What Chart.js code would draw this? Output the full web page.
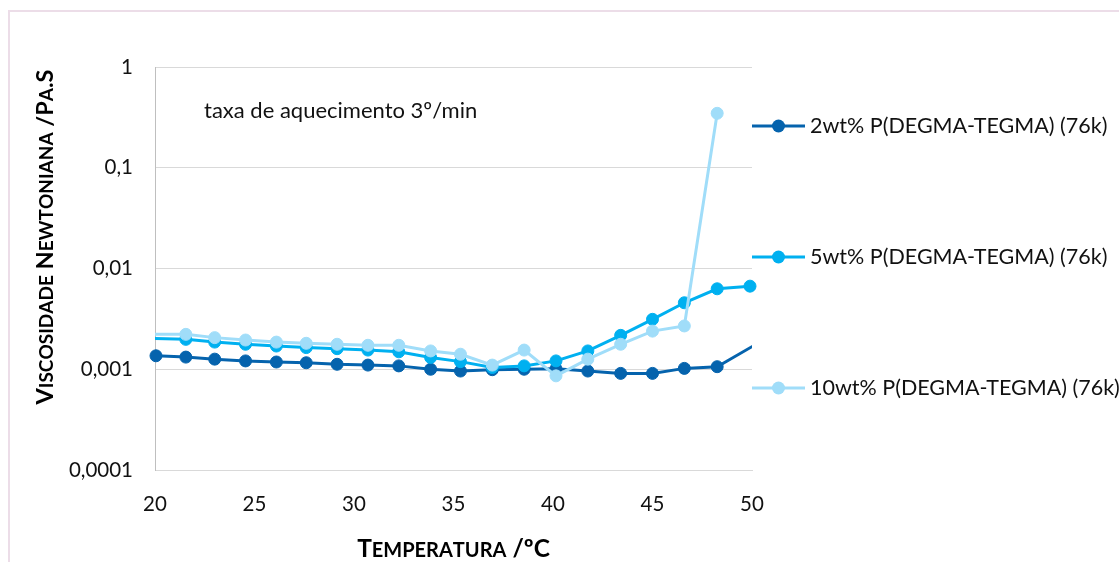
<!DOCTYPE html>
<html lang="pt">
<head>
<meta charset="utf-8">
<title>Viscosidade newtoniana vs temperatura</title>
<script src="https://cdn.jsdelivr.net/npm/chart.js@4.4.1/dist/chart.umd.min.js"></script>
<style>
  html, body { margin: 0; padding: 0; background: #fff; }
  #wrap { position: relative; width: 1119px; height: 562px; overflow: hidden; }
  #frame { position: absolute; left: 8px; top: 10px; right: -4px; bottom: -4px;
           border-top: 2px solid #ecdde8; border-left: 2px solid #ecdde8; }
  #chart { position: absolute; left: 0; top: 0; }
</style>
</head>
<body>
<div id="wrap">
  <div id="frame"></div>
  <canvas id="chart" width="1119" height="562"></canvas>
</div>
<script>
// Temperatures (ºC) per series
const temp2wt = [20.05, 21.55, 23.0, 24.55, 26.1, 27.6, 29.15, 30.7, 32.25, 33.85,
                 35.35, 36.95, 38.55, 40.15, 41.75, 43.4, 45.0, 46.6, 48.25, 51.6];
const temp5wt = [18.45, 21.55, 23.0, 24.55, 26.1, 27.6, 29.15, 30.7, 32.25, 33.85,
                 35.35, 36.95, 38.55, 40.15, 41.75, 43.4, 45.0, 46.6, 48.25, 49.9];
const temp10wt = [18.45, 21.55, 23.0, 24.55, 26.1, 27.6, 29.15, 30.7, 32.25, 33.85,
                  35.35, 36.95, 38.55, 40.15, 41.75, 43.4, 45.0, 46.6, 48.25];

// Newtonian viscosity (Pa.s)
const visc2wt = [0.00136, 0.00132, 0.00126, 0.00121, 0.00118, 0.00116, 0.00112, 0.00110, 0.00108, 0.00100,
                 0.00096, 0.00099, 0.00100, 0.00101, 0.00096, 0.00091, 0.00091, 0.00102, 0.00106, 0.00255];
const visc5wt = [0.00206, 0.00198, 0.00186, 0.00177, 0.00170, 0.00164, 0.00160, 0.00155, 0.00149, 0.00131,
                 0.00119, 0.00104, 0.00108, 0.00121, 0.00152, 0.00217, 0.00313, 0.00457, 0.00629, 0.00668];
const visc10wt = [0.00222, 0.00222, 0.00206, 0.00195, 0.00186, 0.00181, 0.00177, 0.00173, 0.00173, 0.00152,
                  0.00141, 0.00110, 0.00155, 0.00086, 0.00126, 0.00177, 0.00239, 0.00269, 0.347];

const seriesNames = ['2wt% P(DEGMA-TEGMA) (76k)', '5wt% P(DEGMA-TEGMA) (76k)', '10wt% P(DEGMA-TEGMA) (76k)'];
const seriesColors = ['#0563ad', '#00b0f0', '#a0ddf9'];

const yTickValues = [0.0001, 0.001, 0.01, 0.1, 1];
const yTickLabels = ['0,0001', '0,001', '0,01', '0,1', '1'];
const xTickStep = 5;

const yTitle = 'Viscosidade Newtoniana /Pa.S';
const xTitle = 'Temperatura /ºC';
const note = 'taxa de aquecimento 3º/min';

const FONT = 'Lato, "Open Sans", sans-serif';

const toXY = (xs, ys) => xs.map((x, i) => ({ x, y: ys[i] }));

// small caps by hand: lowercase letters become smaller capitals
function drawSmallCaps(ctx, text, cx, cy, angle, big, small) {
  const parts = [...text].map(ch => {
    const low = ch !== ch.toUpperCase();
    return { t: low ? ch.toUpperCase() : ch, size: low ? small : big };
  });
  let total = 0;
  parts.forEach(p => {
    ctx.font = `bold ${p.size}px ${FONT}`;
    p.w = ctx.measureText(p.t).width;
    total += p.w;
  });
  ctx.save();
  ctx.translate(cx, cy);
  ctx.rotate(angle);
  ctx.fillStyle = '#000';
  ctx.textAlign = 'left';
  ctx.textBaseline = 'alphabetic';
  let x = -total / 2;
  const base = big * 0.36;
  parts.forEach(p => {
    ctx.font = `bold ${p.size}px ${FONT}`;
    ctx.fillText(p.t, x, base);
    x += p.w;
  });
  ctx.restore();
}

const decor = {
  id: 'decor',
  afterDraw(chart) {
    const { ctx, chartArea: a } = chart;
    drawSmallCaps(ctx, yTitle, 45, 237, -Math.PI / 2, 23.5, 19);
    drawSmallCaps(ctx, xTitle, (a.left + a.right) / 2, 548, 0, 24.5, 20);

    ctx.save();
    ctx.fillStyle = '#111';
    ctx.font = `22px ${FONT}`;
    ctx.textBaseline = 'alphabetic';
    ctx.fillText(note, a.left + 49, a.top + 51);

    // legend: line + marker + label, Excel style
    const rows = [126, 257, 388];
    ctx.font = `21.5px ${FONT}`;
    chart.data.datasets.forEach((ds, i) => {
      const y = rows[i];
      const x0 = a.right;
      ctx.strokeStyle = ds.borderColor;
      ctx.lineWidth = 3;
      ctx.beginPath();
      ctx.moveTo(x0, y);
      ctx.lineTo(x0 + 53, y);
      ctx.stroke();
      ctx.fillStyle = ds.backgroundColor;
      ctx.beginPath();
      ctx.arc(x0 + 26.5, y, 6.5, 0, Math.PI * 2);
      ctx.fill();
      ctx.fillStyle = '#111';
      ctx.textBaseline = 'middle';
      ctx.fillText(ds.label, x0 + 58, y);
    });
    ctx.restore();
  }
};

const seriesData = [toXY(temp2wt, visc2wt), toXY(temp5wt, visc5wt), toXY(temp10wt, visc10wt)];
const clips = [
  { left: 10, top: 10, right: 0, bottom: 10 },
  { left: 0, top: 10, right: 10, bottom: 10 },
  { left: 0, top: 10, right: 10, bottom: 10 }
];

new Chart(document.getElementById('chart'), {
  type: 'line',
  data: {
    datasets: seriesNames.map((name, i) => ({
      label: name,
      data: seriesData[i],
      borderColor: seriesColors[i],
      backgroundColor: seriesColors[i],
      pointBackgroundColor: seriesColors[i],
      pointBorderColor: seriesColors[i],
      borderWidth: 3,
      pointRadius: 6,
      pointBorderWidth: 1,
      tension: 0,
      clip: clips[i],
      order: 3 - i
    }))
  },
  options: {
    responsive: false,
    animation: false,
    events: [],
    layout: { padding: { top: 67, right: 367, left: 0, bottom: 0 } },
    plugins: { legend: { display: false }, tooltip: { enabled: false } },
    scales: {
      x: {
        type: 'linear',
        min: 20,
        max: 50,
        grid: { display: false, drawTicks: false },
        border: { color: '#d9d9d9', width: 1 },
        ticks: { stepSize: xTickStep, padding: 22, color: '#111', font: { family: FONT, size: 20.5 } },
        afterFit(scale) { scale.height = 92; }
      },
      y: {
        type: 'logarithmic',
        min: 0.0001,
        max: 1,
        afterBuildTicks(scale) { scale.ticks = yTickValues.map(v => ({ value: v })); },
        grid: { color: '#d9d9d9', lineWidth: 1, drawTicks: false },
        border: { color: '#bfbfbf', width: 1 },
        ticks: {
          padding: 22,
          color: '#111',
          font: { family: FONT, size: 20.5 },
          callback: v => yTickLabels[yTickValues.indexOf(v)] ?? ''
        },
        afterFit(scale) { scale.width = 155; }
      }
    }
  },
  plugins: [decor]
});
</script>
</body>
</html>
